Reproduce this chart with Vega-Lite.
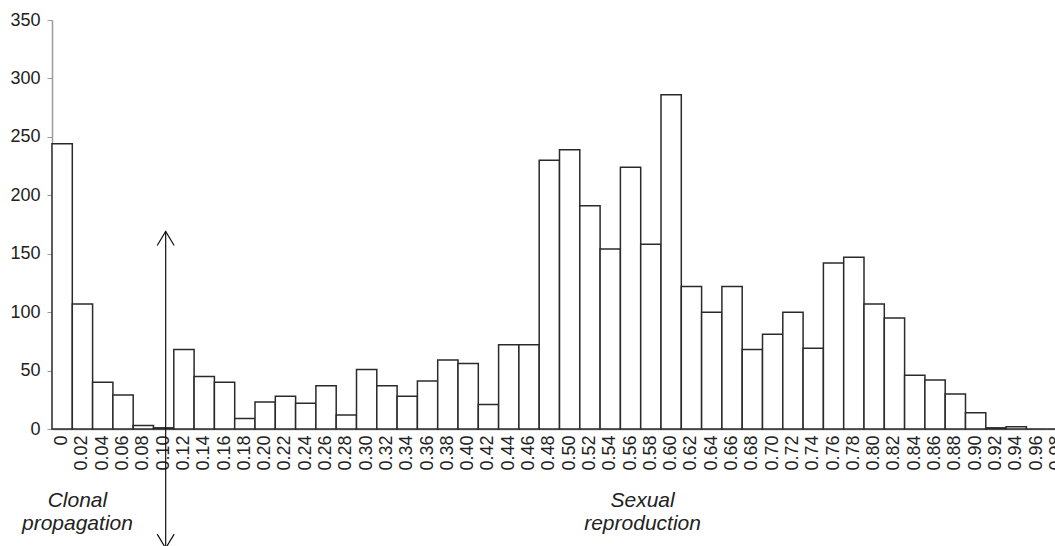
{
  "$schema": "https://vega.github.io/schema/vega-lite/v6.json",
  "autosize": {"type": "none"},
  "padding": {"left": 52, "top": 20, "right": 0, "bottom": 117},
  "width": 1003,
  "height": 409,
  "background": "white",
  "config": {
    "view": {"stroke": null},
    "font": "Liberation Sans",
    "axis": {"grid": false, "labelFont": "Liberation Sans", "labelColor": "#222", "domainColor": "#9a9a9a", "domainWidth": 1.5, "tickColor": "#9a9a9a", "title": null}
  },
  "layer": [
    {
      "data": {"values": [
        {"bin": "0", "count": 244}, {"bin": "0.02", "count": 107}, {"bin": "0.04", "count": 40}, {"bin": "0.06", "count": 29},
        {"bin": "0.08", "count": 3}, {"bin": "0.10", "count": 1}, {"bin": "0.12", "count": 68}, {"bin": "0.14", "count": 45},
        {"bin": "0.16", "count": 40}, {"bin": "0.18", "count": 9}, {"bin": "0.20", "count": 23}, {"bin": "0.22", "count": 28},
        {"bin": "0.24", "count": 22}, {"bin": "0.26", "count": 37}, {"bin": "0.28", "count": 12}, {"bin": "0.30", "count": 51},
        {"bin": "0.32", "count": 37}, {"bin": "0.34", "count": 28}, {"bin": "0.36", "count": 41}, {"bin": "0.38", "count": 59},
        {"bin": "0.40", "count": 56}, {"bin": "0.42", "count": 21}, {"bin": "0.44", "count": 72}, {"bin": "0.46", "count": 72},
        {"bin": "0.48", "count": 230}, {"bin": "0.50", "count": 239}, {"bin": "0.52", "count": 191}, {"bin": "0.54", "count": 154},
        {"bin": "0.56", "count": 224}, {"bin": "0.58", "count": 158}, {"bin": "0.60", "count": 286}, {"bin": "0.62", "count": 122},
        {"bin": "0.64", "count": 100}, {"bin": "0.66", "count": 122}, {"bin": "0.68", "count": 68}, {"bin": "0.70", "count": 81},
        {"bin": "0.72", "count": 100}, {"bin": "0.74", "count": 69}, {"bin": "0.76", "count": 142}, {"bin": "0.78", "count": 147},
        {"bin": "0.80", "count": 107}, {"bin": "0.82", "count": 95}, {"bin": "0.84", "count": 46}, {"bin": "0.86", "count": 42},
        {"bin": "0.88", "count": 30}, {"bin": "0.90", "count": 14}, {"bin": "0.92", "count": 1}, {"bin": "0.94", "count": 2},
        {"bin": "0.96", "count": 0}, {"bin": "0.98", "count": 0}
      ]},
      "mark": {"type": "bar", "fill": "white", "stroke": "#2a2a2a", "strokeWidth": 1.5},
      "encoding": {
        "x": {
          "field": "bin", "type": "ordinal", "sort": null,
          "scale": {"range": [0, 1015], "paddingInner": 0, "paddingOuter": 0},
          "axis": {"labelAngle": -90, "labelFontSize": 18, "ticks": false, "labelPadding": 6, "labelOverlap": false, "labelBound": false}
        },
        "y": {
          "field": "count", "type": "quantitative",
          "scale": {"domain": [0, 350], "nice": false},
          "axis": {"values": [0, 50, 100, 150, 200, 250, 300, 350], "labelFontSize": 18, "tickSize": 5, "labelPadding": 7}
        }
      }
    },
    {
      "data": {"values": [{}]},
      "mark": {"type": "rule", "stroke": "#111", "strokeWidth": 1.2},
      "encoding": {
        "x": {"datum": "0.10", "type": "ordinal", "bandPosition": 0.6},
        "y": {"datum": 169, "type": "quantitative"},
        "y2": {"datum": -102}
      }
    },
    {
      "data": {"values": [{}]},
      "mark": {"type": "point", "shape": "M-1,1.65L0,0L1,1.65", "size": 289, "filled": false, "stroke": "#111", "strokeWidth": 1.2, "opacity": 1},
      "encoding": {
        "x": {"datum": "0.10", "type": "ordinal", "bandPosition": 0.6},
        "y": {"datum": 169, "type": "quantitative"}
      }
    },
    {
      "data": {"values": [{}]},
      "mark": {"type": "point", "shape": "M-1,-1.65L0,0L1,-1.65", "size": 289, "filled": false, "stroke": "#111", "strokeWidth": 1.2, "opacity": 1},
      "encoding": {
        "x": {"datum": "0.10", "type": "ordinal", "bandPosition": 0.6},
        "y": {"datum": -102, "type": "quantitative"}
      }
    },
    {
      "data": {"values": [{"label": "Clonal\npropagation"}]},
      "mark": {"type": "text", "fontStyle": "italic", "fontSize": 21, "color": "#222", "lineBreak": "\n", "lineHeight": 23, "baseline": "alphabetic", "align": "center", "dx": -5},
      "encoding": {
        "x": {"datum": "0.02", "type": "ordinal"},
        "y": {"datum": -67, "type": "quantitative"},
        "text": {"field": "label"}
      }
    },
    {
      "data": {"values": [{"label": "Sexual\nreproduction"}]},
      "mark": {"type": "text", "fontStyle": "italic", "fontSize": 21, "color": "#222", "lineBreak": "\n", "lineHeight": 23, "baseline": "alphabetic", "align": "center", "dx": 12},
      "encoding": {
        "x": {"datum": "0.56", "type": "ordinal"},
        "y": {"datum": -67, "type": "quantitative"},
        "text": {"field": "label"}
      }
    }
  ]
}
